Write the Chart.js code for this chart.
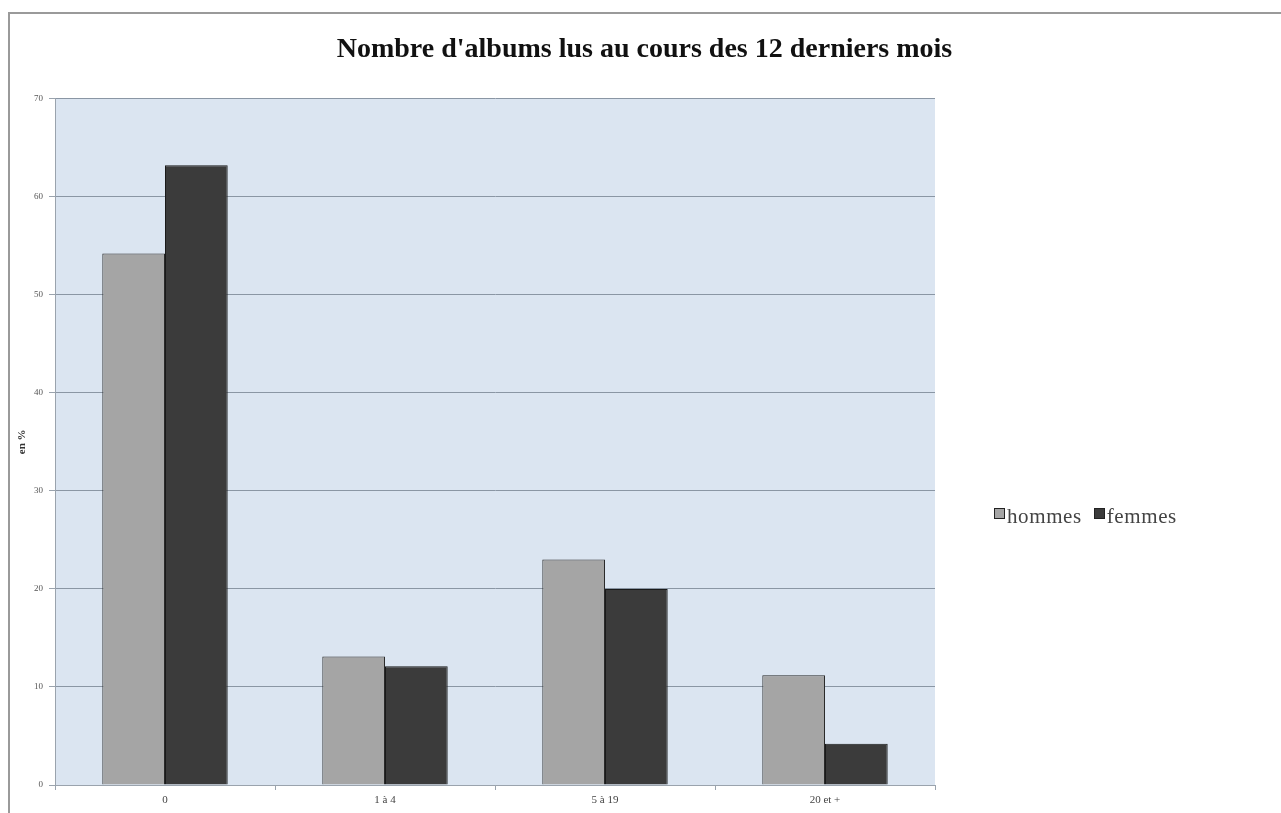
<!DOCTYPE html>
<html>
<head>
<meta charset="utf-8">
<script src="https://cdn.jsdelivr.net/npm/chart.js@4/dist/chart.umd.min.js"></script>
<style>
  body { margin: 0; background: #fff; }
  #frame {
    position: absolute; left: 8px; top: 12px; width: 1273px; height: 801px;
    border-top: 2px solid #9a9a9a; border-left: 2px solid #9a9a9a; box-sizing: border-box;
  }
  #wrap { position: absolute; left: 8px; top: 12px; width: 1273px; height: 801px; }
  #legend {
    position: absolute; left: 994px; top: 504px;
    font-family: "Liberation Serif", serif; font-size: 21px; letter-spacing: 0.6px; color: #444;
    white-space: nowrap;
  }
  #legend span.box {
    display: inline-block; width: 9px; height: 9px; border: 1px solid #222;
    margin-right: 2px; vertical-align: 4px;
  }
  #legend span.item { margin-right: 12px; }
</style>
</head>
<body>
<div id="frame"></div>
<div id="wrap"><canvas id="chart"></canvas></div>
<div id="legend"></div>
<script>
const categories = ['0', '1 à 4', '5 à 19', '20 et +'];
const hommes = [54.2, 13.1, 23, 11.2];
const femmes = [63.2, 12.1, 20, 4.2];
const seriesNames = ['hommes', 'femmes'];
const seriesColors = ['#a5a5a5', '#3b3b3b'];

// fond bleu clair de la zone de tracé
const plotBg = {
  id: 'plotBg',
  beforeDraw(chart) {
    const { ctx, chartArea: a } = chart;
    ctx.save();
    ctx.fillStyle = '#dbe5f1';
    ctx.fillRect(a.left, a.top, a.right - a.left, a.bottom - a.top);
    ctx.restore();
  },
};

const ctx = document.getElementById('chart').getContext('2d');
new Chart(ctx, {
  type: 'bar',
  data: {
    labels: categories,
    datasets: [
      { label: seriesNames[0], data: hommes, backgroundColor: seriesColors[0], borderColor: '#2a2a2a', borderWidth: 1 },
      { label: seriesNames[1], data: femmes, backgroundColor: seriesColors[1], borderColor: '#1a1a1a', borderWidth: 1 },
    ],
  },
  options: {
    responsive: true,
    maintainAspectRatio: false,
    animation: false,
    layout: { padding: 0 },
    datasets: { bar: { categoryPercentage: 0.57, barPercentage: 1 } },
    plugins: {
      legend: { display: false },
      tooltip: { enabled: false },
      title: {
        display: true,
        text: "Nombre d'albums lus au cours des 12 derniers mois",
        color: '#111',
        font: { family: 'Liberation Serif', size: 28, weight: 'bold' },
        padding: { top: 21, bottom: 32 },
      },
    },
    scales: {
      x: {
        grid: { drawOnChartArea: false, drawTicks: true, tickLength: 5, color: '#9aa3ad' },
        border: { color: '#9aa3ad' },
        ticks: { color: '#444', font: { family: 'Liberation Serif', size: 11 }, padding: 4 },
        afterFit: (s) => { s.height = 28; },
      },
      y: {
        min: 0,
        max: 70,
        ticks: { stepSize: 10, color: '#555', font: { family: 'Liberation Serif', size: 9 }, padding: 6 },
        grid: { color: '#8a96a4', tickLength: 6, tickColor: '#9aa3ad' },
        border: { color: '#9aa3ad' },
        title: {
          display: true,
          text: 'en %',
          color: '#333',
          font: { family: 'Liberation Serif', size: 11, weight: 'bold' },
          padding: { top: 8, bottom: 0 },
        },
        afterFit: (s) => { s.width = 47; },
      },
      // axe vide qui réserve la place de la légende à droite
      spacer: {
        type: 'linear',
        position: 'right',
        grid: { display: false },
        ticks: { display: false },
        border: { display: false },
        afterFit: (s) => { s.width = 346; },
      },
    },
  },
  plugins: [plotBg],
});

// légende horizontale à droite
const legend = document.getElementById('legend');
seriesNames.forEach((name, i) => {
  const item = document.createElement('span');
  item.className = 'item';
  const box = document.createElement('span');
  box.className = 'box';
  box.style.background = seriesColors[i];
  item.appendChild(box);
  item.appendChild(document.createTextNode(name));
  legend.appendChild(item);
});
</script>
</body>
</html>
